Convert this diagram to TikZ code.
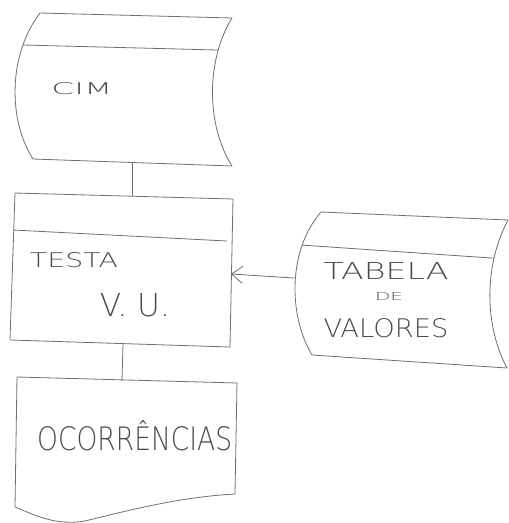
\documentclass[tikz,border=0pt]{standalone}
\usepackage{fontspec}
\usepackage{graphicx}
\setmainfont{DejaVu Sans ExtraLight}
\usetikzlibrary{arrows.meta}
\definecolor{pencil}{RGB}{110,110,110}
\definecolor{ink}{RGB}{75,75,75}
\tikzset{
  outline/.style={draw=pencil, line width=0.8pt, line join=round},
  divider/.style={draw=pencil, line width=0.8pt},
  conn/.style={draw=pencil, line width=0.8pt},
  lbl/.style={text=ink, inner sep=0pt},
  arr/.style={-{Straight Barb[length=11pt,width=17pt,line width=0.8pt]}}
}
\newcommand{\cimpath}{(40,13) -- (232,18) .. controls (206,60) and (206,125) .. (232,166) -- (33,159) .. controls (8,120) and (8,55) .. (40,13) -- cycle}
\newcommand{\tabpath}{(321,212) -- (508,220) .. controls (484,265) and (484,325) .. (507,368) -- (312,355) .. controls (288,315) and (288,250) .. (321,212) -- cycle}
\begin{document}
\begin{tikzpicture}[x=1pt,y=-1pt]
\useasboundingbox (0,0) rectangle (509,523);
% CIM storage shape
\path[outline] \cimpath;
\begin{scope}
  \clip \cimpath;
  \draw[divider] (0,44.4) -- (260,51.1);
\end{scope}
\node[lbl] (cim) at (82,89) {\resizebox{61pt}{12pt}{CIM}};
% TESTA process box
\path[outline] (15,193) -- (233,199) -- (230,347) -- (10,340) -- cycle;
\draw[divider] (13,230) -- (227,241);
\node[lbl] (testa) at (74,260) {\resizebox{88pt}{15pt}{TESTA}};
\node[lbl] (vu) at (135,305) {\resizebox{70pt}{23pt}{V. U.}};
% TABELA storage shape
\path[outline] \tabpath;
\begin{scope}
  \clip \tabpath;
  \draw[divider] (280,243.6) -- (509,259.2);
\end{scope}
\node[lbl] (tabela) at (386,271) {\resizebox{125pt}{17pt}{TABELA}};
\node[lbl] (de) at (389,296) {\resizebox{28pt}{8pt}{DE}};
\node[lbl] (valores) at (386,328) {\resizebox{125pt}{19pt}{VALORES}};
% OCORRENCIAS document
\path[outline] (17,377) -- (237,383) -- (235,494) .. controls (180,497) and (130,510) .. (85,521) .. controls (55,526) and (35,515) .. (15,507) -- cycle;
\node[lbl, anchor=base west] (ocorr) at (37,450) {\resizebox{195pt}{30pt}{OCORRÊNCIAS}};
% connectors
\coordinate (cimS) at (132,162);
\coordinate (testaN) at (132,196);
\coordinate (testaS) at (123,344);
\coordinate (ocorrN) at (122,381);
\coordinate (tabW) at (294,278);
\coordinate (testaE) at (231,274);
\draw[conn] (cimS) -- (testaN);
\draw[conn] (testaS) -- (ocorrN);
\draw[conn,arr] (tabW) -- (testaE);
\end{tikzpicture}
\end{document}
